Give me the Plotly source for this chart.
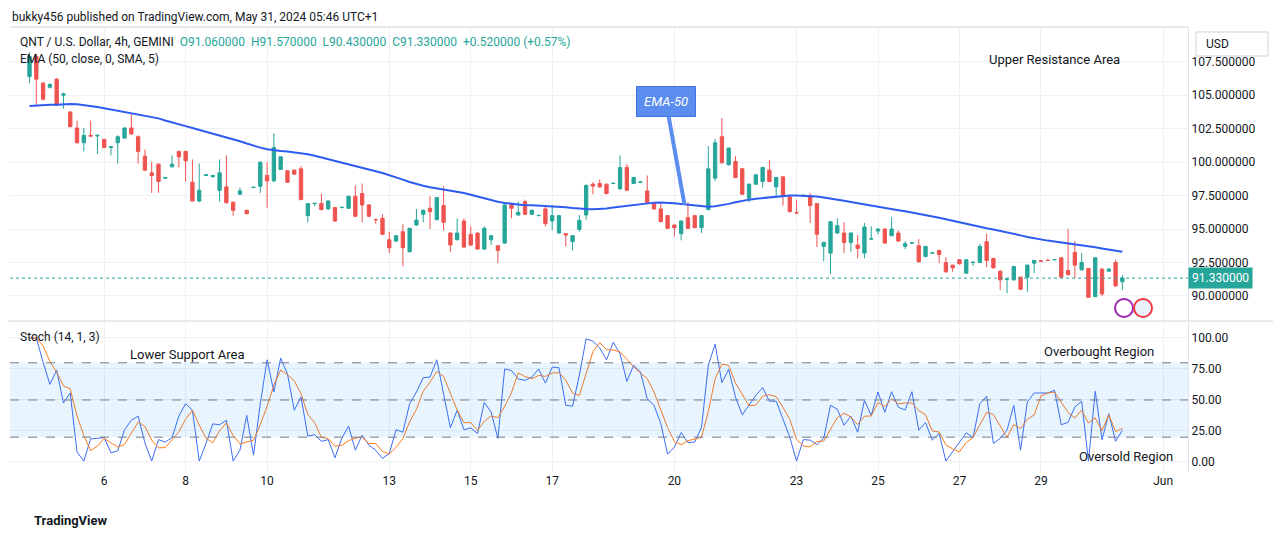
import pandas as pd
import plotly.graph_objs as go
from plotly.subplots import make_subplots

# 4h candles, QNT/USD
opens = [106.4, 107.9, 105.9, 105.6, 106.2, 105.0, 103.75, 102.55, 101.45, 102.0,
         101.95, 101.7, 101.1, 101.45, 101.8, 102.55, 101.9, 100.45, 99.2, 99.85,
         98.8, 99.65, 100.8, 100.8, 98.5, 97.1, 99.0, 98.9, 97.9, 98.15,
         97.0, 97.6, 96.4, 98.1, 98.2, 99.0, 98.6, 99.45, 99.35, 99.4,
         99.5, 96.0, 96.9, 96.9, 96.5, 96.6, 96.6, 96.55, 97.45, 97.65,
         96.8, 95.72, 95.8, 94.2, 94.1, 94.8, 93.3, 95.3, 96.1, 96.55,
         95.7, 96.75, 94.7, 94.2, 95.6, 94.6, 94.7, 93.5, 94.2, 93.75,
         93.95, 96.8, 96.05, 97.05, 96.1, 96.0, 96.5, 95.6, 94.7, 94.65,
         94.05, 94.97, 96.05, 98.35, 98.4, 98.35, 98.4, 98.0, 99.6, 98.4,
         98.5, 97.85, 96.9, 96.5, 96.0, 95.3, 94.65, 95.85, 96.0, 95.1,
         96.45, 98.8, 101.9, 99.8, 100.05, 99.5, 97.3, 98.35, 98.55, 99.4,
         98.15, 98.9, 97.4, 96.22, 97.5, 97.5, 96.9, 93.7, 93.2, 94.7,
         94.7, 94.0, 93.8, 93.2, 94.25, 94.85, 95.0, 94.5, 94.7, 93.7,
         93.95, 93.75, 92.95, 93.2, 93.4, 92.5, 92.3, 92.7, 91.7, 92.5,
         92.5, 94.05, 92.8, 91.85, 91.25, 91.2, 91.4, 91.4, 92.45, 92.62,
         92.67, 92.7, 92.85, 91.9, 93.25, 91.95, 92.05, 89.95, 92.0, 91.85,
         92.5, 91.06]
closes = [107.9, 106.2, 104.7, 105.8, 104.25, 105.1, 102.65, 101.45, 102.0, 101.95,
          102.0, 101.1, 101.15, 101.9, 102.55, 102.1, 100.8, 99.4, 99.0, 98.55,
          98.85, 99.85, 100.4, 100.1, 97.1, 97.9, 99.05, 99.0, 99.2, 96.97,
          96.4, 97.85, 96.15, 98.12, 100.0, 98.6, 101.1, 100.4, 98.5, 99.1,
          97.2, 96.9, 96.92, 96.45, 97.1, 95.6, 96.62, 97.45, 95.95, 96.8,
          95.95, 95.7, 94.6, 93.6, 94.5, 93.6, 95.05, 95.67, 96.4, 96.3,
          97.35, 95.5, 93.8, 94.7, 93.65, 93.8, 93.5, 95.05, 94.5, 93.4,
          96.8, 96.55, 96.25, 96.1, 96.4, 96.02, 95.4, 96.0, 96.0, 94.55,
          94.5, 95.65, 98.25, 98.2, 98.15, 97.65, 98.42, 99.6, 97.9, 98.85,
          98.52, 97.0, 96.5, 95.55, 95.05, 95.1, 95.6, 95.05, 95.1, 96.0,
          99.5, 101.45, 99.95, 101.05, 98.85, 97.6, 98.35, 99.05, 99.6, 98.55,
          98.85, 97.45, 96.3, 96.2, 97.52, 96.75, 94.6, 94.0, 95.55, 95.25,
          94.0, 94.7, 93.55, 95.15, 94.27, 95.0, 93.95, 95.0, 94.1, 93.9,
          93.97, 92.55, 93.7, 93.22, 93.1, 91.8, 92.1, 92.4, 92.7, 92.52,
          93.7, 92.65, 92.1, 91.2, 91.27, 92.2, 90.5, 92.3, 92.65, 92.6,
          92.65, 92.72, 91.4, 91.6, 92.3, 92.5, 89.9, 92.85, 90.15, 92.0,
          90.75, 91.33]
highs = [108.2, 108.1, 106.0, 105.9, 106.3, 105.2, 103.8, 103.1, 102.55, 103.1,
         102.05, 101.75, 101.2, 102.0, 102.6, 103.6, 102.0, 100.95, 100.0, 99.9,
         98.9, 100.5, 100.85, 100.85, 100.2, 99.9, 99.1, 99.05, 100.2, 100.5,
         97.05, 98.1, 96.45, 98.15, 100.05, 100.0, 102.15, 100.45, 99.4, 99.45,
         99.7, 96.95, 96.95, 97.65, 97.15, 96.65, 96.65, 97.5, 98.25, 98.4,
         96.85, 95.75, 96.1, 94.8, 94.55, 95.35, 95.1, 96.5, 96.45, 97.45,
         97.4, 98.2, 94.75, 95.8, 95.8, 95.2, 94.75, 95.2, 94.55, 93.8,
         96.85, 96.85, 97.05, 97.2, 96.45, 96.05, 96.8, 96.8, 96.05, 94.7,
         94.55, 96.05, 98.35, 98.5, 98.7, 98.4, 98.45, 100.5, 99.85, 98.9,
         98.55, 99.0, 96.95, 97.0, 96.05, 95.35, 95.65, 97.0, 96.05, 96.05,
         101.2, 101.75, 103.3, 101.1, 100.45, 99.55, 98.4, 99.1, 99.65, 100.15,
         98.9, 98.95, 97.45, 97.2, 97.55, 97.7, 96.95, 94.05, 95.6, 95.8,
         95.5, 94.75, 94.55, 95.45, 95.2, 95.05, 95.05, 95.9, 94.9, 94.1,
         94.0, 94.25, 93.75, 93.25, 93.45, 92.9, 92.35, 92.75, 92.75, 92.55,
         93.9, 94.65, 92.85, 91.9, 91.3, 92.25, 91.45, 92.35, 92.7, 92.65,
         92.7, 92.75, 92.9, 95.0, 94.1, 93.2, 92.1, 92.9, 92.1, 92.1,
         92.7, 91.57]
lows = [105.9, 104.3, 104.6, 105.5, 104.2, 104.0, 102.6, 101.4, 100.8, 101.9,
        100.6, 101.05, 100.5, 99.9, 101.75, 102.05, 99.9, 99.35, 97.7, 97.7,
        98.75, 99.6, 99.6, 98.55, 97.05, 97.0, 98.95, 98.85, 97.05, 96.9,
        96.0, 97.55, 96.1, 98.05, 97.7, 96.6, 98.5, 99.4, 98.45, 99.05,
        97.15, 95.5, 96.7, 96.4, 96.45, 95.55, 96.55, 96.5, 95.9, 95.5,
        95.9, 95.4, 94.55, 93.2, 94.05, 92.2, 93.25, 95.25, 95.5, 95.0,
        95.65, 94.9, 93.3, 94.15, 93.6, 93.75, 93.45, 93.45, 93.8, 92.45,
        93.9, 95.8, 96.0, 96.05, 96.05, 95.95, 95.2, 94.9, 94.65, 93.7,
        93.4, 94.8, 95.7, 97.6, 98.1, 97.6, 98.35, 97.95, 97.85, 98.35,
        98.45, 96.95, 96.45, 95.5, 95.0, 94.45, 94.15, 95.0, 95.05, 94.7,
        96.4, 98.6, 99.9, 99.75, 98.8, 97.55, 97.0, 98.3, 98.1, 98.5,
        97.3, 96.75, 96.25, 96.15, 97.45, 95.45, 93.65, 92.6, 91.65, 94.65,
        93.2, 93.3, 92.8, 92.8, 94.2, 94.6, 93.9, 94.45, 94.05, 93.5,
        93.9, 92.5, 92.9, 93.15, 92.45, 91.75, 91.8, 92.35, 91.65, 92.25,
        92.45, 92.15, 92.05, 90.45, 90.2, 91.15, 90.45, 90.3, 91.7, 92.55,
        92.6, 92.65, 91.35, 91.5, 91.3, 91.9, 89.85, 89.9, 90.0, 91.8,
        90.7, 90.43]

# Stoch (14, 1, 3) %K
stoch_k = [100, 100, 80.5, 62.6, 74, 47.6, 55.6, 8, 0.7, 18.6,
           19, 19.7, 7.4, 9, 26, 33.6, 37, 15.4, 0.7, 18,
           16, 19.7, 37, 47, 41.7, 0.7, 15, 30.7, 30, 33.6,
           0.7, 9.5, 37.6, 5.5, 47, 82.4, 56.4, 83.8, 71, 41.7,
           52.4, 20.8, 22, 16.7, 18, 3.4, 19, 29, 9.5, 21.6,
           13.5, 9.5, 2.8, 6.8, 26, 24, 47, 56.4, 68, 68.5,
           82.4, 56.4, 27.5, 41.7, 26, 27.5, 23, 48, 40.3, 19,
           75, 73.8, 67, 65.8, 68.5, 75, 63.6, 76.5, 76, 45.7,
           45, 70, 99.3, 97.4, 92, 82.4, 96.6, 87.2, 65, 78,
           72.5, 51, 45.7, 31, 6.3, 12, 23.7, 15.7, 16, 28,
           78, 95, 64, 74.6, 52.4, 38, 45.7, 53.7, 60, 49,
           49, 34, 20, 0.7, 18, 17.6, 14, 19, 45.7, 42.5,
           29.6, 37, 24, 49.7, 37.6, 56.4, 40, 56.7, 44, 42,
           56.7, 25.6, 31.8, 17.6, 23, 0.7, 8, 15.7, 23.5, 19.7,
           47, 53, 15, 19, 25.6, 45.7, 9.5, 48.4, 55.6, 55.6,
           55.6, 57.8, 30, 32, 44.4, 49, 0.7, 57, 18, 39,
           16.7, 25.6]

day_ticks = ["2024-05-06", "2024-05-08", "2024-05-10", "2024-05-13", "2024-05-15",
             "2024-05-17", "2024-05-20", "2024-05-23", "2024-05-25", "2024-05-27",
             "2024-05-29", "2024-06-01"]
day_labels = ["6", "8", "10", "13", "15", "17", "20", "23", "25", "27", "29", "Jun"]

GREEN = "#26a69a"
RED = "#ef5350"
TXT = "#131722"
GRID = "#eef1f6"

# the page puts the figure 8px in from the top-left corner of the window
OFF = 8
W, H = 1281, 538
ML, MT = 10 - OFF, 27 - OFF
MR = W - (1188 - OFF)
MB = H - (472 - OFF)


def px_x(x):
    return (x - OFF - ML) / (W - ML - MR)


def px_y(y):
    return (H - MB - (y - OFF)) / (H - MT - MB)


times = pd.date_range(end="2024-05-31 00:00", periods=len(closes), freq="4h")
# EMA-50 smoothed by SMA 5, seeded at the level the line starts from
ema = (pd.Series([104.2] + closes[1:]).ewm(span=50, adjust=False).mean()
       .rolling(5, min_periods=1).mean())
stoch_d = pd.Series(stoch_k).rolling(3, min_periods=1).mean()

fig = make_subplots(rows=2, cols=1, shared_xaxes=True)

fig.add_trace(go.Candlestick(
    x=times, open=opens, high=highs, low=lows, close=closes,
    increasing=dict(line=dict(color=GREEN, width=1), fillcolor=GREEN),
    decreasing=dict(line=dict(color=RED, width=1), fillcolor=RED),
    whiskerwidth=0, showlegend=False, hoverinfo="skip"), row=1, col=1)
fig.add_trace(go.Scatter(x=times, y=ema, mode="lines",
                         line=dict(color="#2e5bf0", width=2), showlegend=False), row=1, col=1)

fig.add_trace(go.Scatter(x=times, y=stoch_k, mode="lines",
                         line=dict(color="#3d6cf2", width=1), showlegend=False), row=2, col=1)
fig.add_trace(go.Scatter(x=times, y=stoch_d, mode="lines",
                         line=dict(color="#ff7a1a", width=1), showlegend=False), row=2, col=1)

# stoch band and levels
fig.add_hrect(y0=20, y1=80, fillcolor="rgba(33,150,243,0.1)", line_width=0, row=2, col=1)
for lvl in (80, 50, 20):
    fig.add_hline(y=lvl, line=dict(color="#787b86", width=1, dash="dash"), row=2, col=1)

# last price dotted line
fig.add_hline(y=closes[-1], line=dict(color=GREEN, width=1, dash="dot"), row=1, col=1)

x_range = ["2024-05-03 16:30", "2024-06-01 14:40"]
fig.update_xaxes(range=x_range, tickvals=day_ticks, ticktext=day_labels, showgrid=True,
                 gridcolor=GRID, rangeslider_visible=False, showline=False,
                 tickfont=dict(size=12, color=TXT), ticks="")
fig.update_xaxes(showticklabels=False, row=1, col=1)
fig.update_yaxes(side="right", showgrid=True, gridcolor=GRID, zeroline=False,
                 tickfont=dict(size=12, color=TXT), showline=True, linecolor="#e0e3eb", ticks="")
fig.update_yaxes(range=[88.2, 110.1], tickvals=[90, 92.5, 95, 97.5, 100, 102.5, 105, 107.5],
                 tickformat=".6f", domain=[px_y(320), 1], row=1, col=1)
fig.update_yaxes(range=[-8.1, 112.9], tickvals=[0, 25, 50, 75, 100], tickformat=".2f",
                 domain=[0, px_y(322)], row=2, col=1)

texts = [
    ("bukky456 published on TradingView.com, May 31, 2024 05:46 UTC+1", 10, 17, 12),
    ("QNT / U.S. Dollar, 4h, GEMINI  <span style='color:#26a69a'>O91.060000  H91.570000  "
     "L90.430000  C91.330000  +0.520000 (+0.57%)</span>", 18, 42, 12),
    ("EMA (50, close, 0, SMA, 5)", 18, 59, 12),
    ("Stoch (14, 1, 3)", 18, 337, 12),
    ("Upper Resistance Area", 987, 59, 13),
    ("Lower Support Area", 128, 354, 13),
    ("Overbought Region", 1042, 351, 13),
    ("Oversold Region", 1077, 456, 13),
    ("<b>TradingView</b>", 32, 520, 13),
    ("USD", 1204, 44, 12),
]
annotations = []
for t, x, y, size in texts:
    annotations.append(dict(text=t, x=px_x(x), y=px_y(y), xref="paper", yref="paper",
                            xanchor="left", yanchor="middle", showarrow=False,
                            font=dict(size=size, color=TXT)))
# last price tag
annotations.append(dict(text="91.330000", x=1.0, y=closes[-1], xref="paper", yref="y", xanchor="left",
                        yanchor="middle", showarrow=False, bgcolor=GREEN, borderpad=3,
                        font=dict(size=12, color="white")))
# EMA-50 callout
annotations.append(dict(text="<i>EMA-50</i>", x="2024-05-20 06:00", y=96.8, xref="x", yref="y",
                        ax="2024-05-19 19:00", ay=104.55, axref="x", ayref="y",
                        showarrow=True, arrowhead=0, arrowwidth=4, arrowcolor="#5b8def",
                        bgcolor="#5b8def", bordercolor="#3f73e6", borderwidth=1, borderpad=7,
                        font=dict(size=13, color="white")))

fig.update_layout(
    width=W, height=H, paper_bgcolor="white", plot_bgcolor="white",
    margin=dict(l=ML, r=MR, t=MT, b=MB),
    font=dict(family="Roboto, 'Noto Sans', sans-serif", color=TXT),
    annotations=annotations, showlegend=False,
)
fig.add_shape(type="rect", xref="paper", yref="paper", x0=px_x(1196), x1=px_x(1268),
              y0=px_y(56), y1=px_y(32), line=dict(color="#d1d4dc", width=1))
fig.add_shape(type="line", xref="paper", yref="paper", x0=px_x(0), x1=px_x(1281),
              y0=px_y(321), y1=px_y(321), line=dict(color="#d1d4dc", width=1))
fig.add_shape(type="line", xref="paper", yref="paper", x0=px_x(10), x1=px_x(1188),
              y0=px_y(27), y1=px_y(27), line=dict(color="#d1d4dc", width=1))
fig.add_shape(type="circle", xref="paper", yref="paper", x0=px_x(1115), x1=px_x(1133),
              y0=px_y(317), y1=px_y(299), line=dict(color="#9c27b0", width=2))
fig.add_shape(type="circle", xref="paper", yref="paper", x0=px_x(1134), x1=px_x(1152),
              y0=px_y(317), y1=px_y(299), line=dict(color="#f23645", width=2),
              fillcolor="#eaf1fb")

fig.write_html("out.html")
